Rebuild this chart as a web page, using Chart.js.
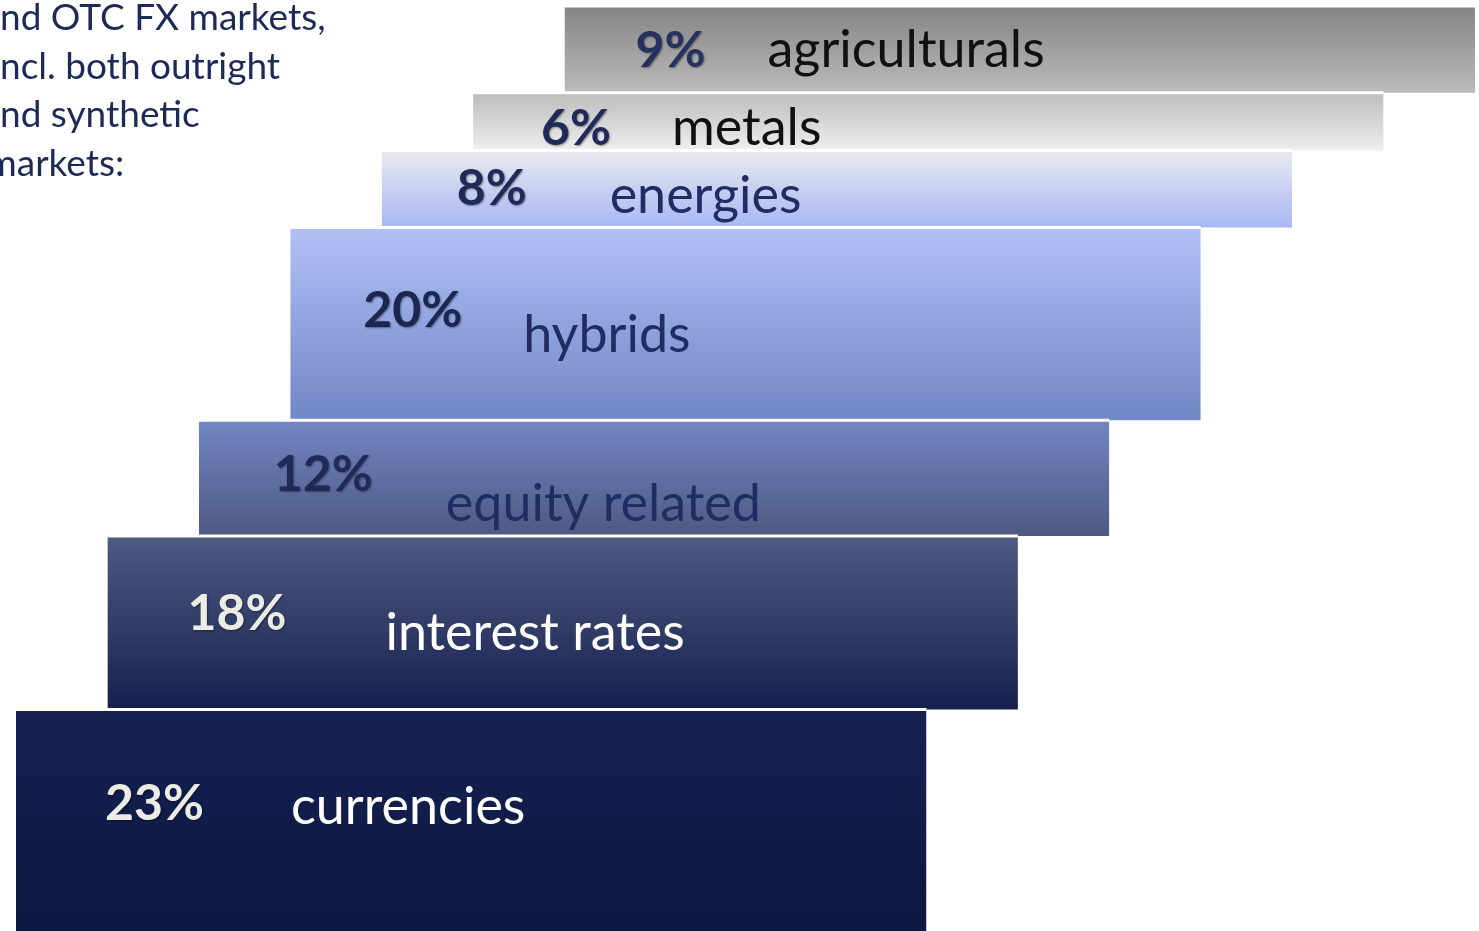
<!DOCTYPE html>
<html>
<head>
<meta charset="utf-8">
<title>Market share staircase</title>
<script src="https://cdn.jsdelivr.net/npm/chart.js@4"></script>
<style>
  html, body { margin: 0; padding: 0; background: #fff; overflow: hidden; }
  #wrap { position: relative; width: 1479px; height: 931px; }
  #chart { position: absolute; left: 0; top: 0; }
  #intro {
    position: absolute; left: 0; top: -8px; z-index: 2;
    font-family: Lato, "Open Sans", sans-serif; font-size: 37px;
    line-height: 48.5px; color: #1c2a55; white-space: nowrap;
  }
</style>
</head>
<body>
<div id="wrap">
  <canvas id="chart" width="1479" height="931"></canvas>
  <div id="intro">
    <div data-cut="a">and OTC FX markets,</div>
    <div data-cut="i">incl. both outright</div>
    <div data-cut="a">and synthetic</div>
    <div data-cut="m">markets:</div>
  </div>
</div>
<script>
// ---------- data (bottom step first) ----------
const categories = ["currencies", "interest rates", "equity related", "hybrids", "energies", "metals", "agriculturals"];
const shares = [23, 18, 12, 20, 8, 6, 9];
const shareLabels = ["23%", "18%", "12%", "20%", "8%", "6%", "9%"];

// ---------- look ----------
const STEP_WIDTH = 9.96; // length of a step in x-units, each level shifted by 1 unit
const gradTop = ["#152152", "#4e5a82", "#7386c2", "#b0c1f6", "#e9eaf0", "#bcbcbc", "#848484"];
const gradBottom = ["#0c1840", "#16204e", "#4d5983", "#7186c5", "#a7b7f3", "#efefef", "#bbbbbb"];
const pctColor = ["#ececE4", "#ececE4", "#1f2a58", "#1b2652", "#1f2a58", "#1f2a58", "#26315e"];
const catColor = ["#ffffff", "#ffffff", "#1f2d62", "#1f2d62", "#1f2d62", "#111111", "#111111"];
// label placement: px from step's left edge / px of baseline below step's top edge
const pctDx = [89, 80, 75, 73, 75, 68, 71];
const pctDy = [111, 94, 71, 99, 54, 52, 61];
const catDx = [275, 278, 247, 233, 228, 199, 203];
const catDy = [115, 114, 101, 124, 62, 52, 61];

const FONT = "Lato, 'Open Sans', sans-serif";

// cumulative bounds of each step
const lows = [];
const highs = [];
let acc = 0;
shares.forEach(v => { lows.push(acc); acc += v; highs.push(acc); });

function stepGradient(ctx, i) {
    const chart = ctx.chart;
    const y = chart.scales.y;
    if (!y || !chart.chartArea) return gradTop[i];
    const g = chart.ctx.createLinearGradient(0, y.getPixelForValue(highs[i]), 0, y.getPixelForValue(lows[i]));
    g.addColorStop(0, gradTop[i]);
    g.addColorStop(1, gradBottom[i]);
    return g;
}

const datasets = categories.map((name, i) => ({
    label: name,
    data: [{ x: i, y: highs[i] }, { x: i + STEP_WIDTH, y: highs[i] }],
    fill: { value: lows[i] },
    backgroundColor: ctx => stepGradient(ctx, i),
    borderColor: "#ffffff",
    borderWidth: 3,
    pointRadius: 0,
    tension: 0
}));

// text inside the steps
const stepLabels = {
    id: "stepLabels",
    afterDatasetsDraw(chart) {
        const { ctx, scales: { x, y } } = chart;
        ctx.save();
        ctx.textBaseline = "alphabetic";
        ctx.textAlign = "left";
        categories.forEach((name, i) => {
            const left = x.getPixelForValue(i);
            const top = y.getPixelForValue(highs[i]);
            // percentage
            ctx.font = "bold 50px " + FONT;
            ctx.fillStyle = pctColor[i];
            ctx.shadowColor = "rgba(0,0,0,0.4)";
            ctx.shadowBlur = 2;
            ctx.shadowOffsetX = 1;
            ctx.shadowOffsetY = 1;
            ctx.fillText(shareLabels[i], left + pctDx[i], top + pctDy[i]);
            // category
            ctx.shadowColor = "transparent";
            ctx.shadowBlur = 0;
            ctx.shadowOffsetX = 0;
            ctx.shadowOffsetY = 0;
            ctx.font = "52px " + FONT;
            ctx.fillStyle = catColor[i];
            ctx.fillText(name, left + catDx[i], top + catDy[i]);
        });
        ctx.restore();
    }
};

new Chart(document.getElementById("chart"), {
    type: "line",
    data: { datasets },
    options: {
        responsive: false,
        animation: false,
        events: [],
        layout: { padding: { left: 16, right: 4, top: 6, bottom: 0 } },
        plugins: { legend: { display: false }, tooltip: { enabled: false } },
        scales: {
            x: { type: "linear", min: 0, max: categories.length - 1 + STEP_WIDTH, display: false },
            y: { type: "linear", min: 0, max: highs[highs.length - 1], display: false }
        }
    },
    plugins: [stepLabels]
});

// intro text is cropped at the left edge like the source slide
(function cropIntro() {
    const m = document.createElement("canvas").getContext("2d");
    m.font = "37px " + FONT;
    document.querySelectorAll("#intro div").forEach(d => {
        const c = d.dataset.cut;
        let w = m.measureText(c).width;
        if (c === "m") w *= 0.45;
        d.style.marginLeft = (-w) + "px";
    });
})();
</script>
</body>
</html>
